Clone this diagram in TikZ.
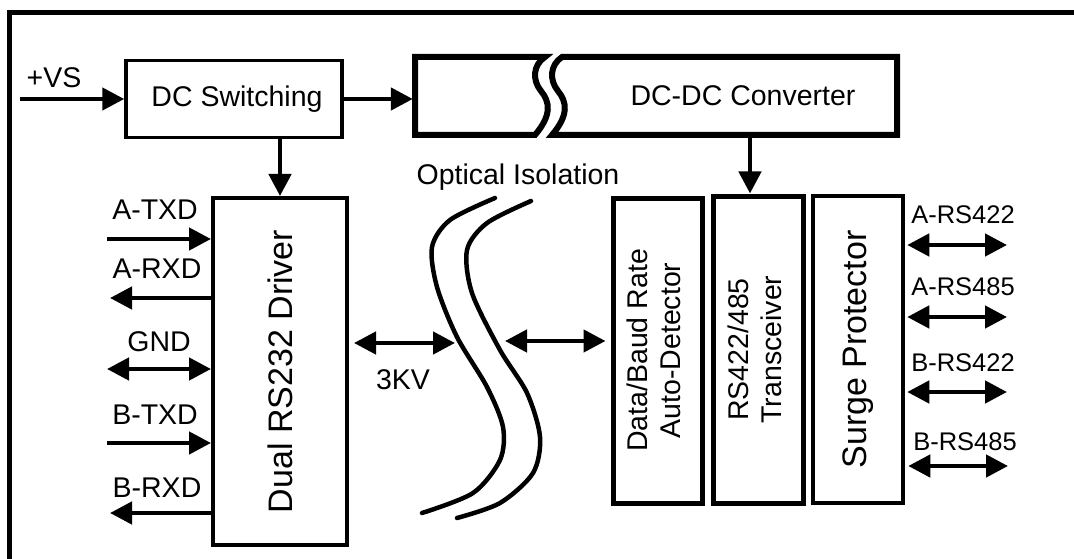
\documentclass[tikz,border=0pt]{standalone}
\usepackage{fontspec}
\setmainfont{Liberation Sans}
\usetikzlibrary{arrows.meta}
\newcommand\txtA{\fontsize{28.5pt}{33pt}\selectfont}
\newcommand\txtB{\fontsize{34pt}{40pt}\selectfont}
\newcommand\txtC{\fontsize{25.5pt}{30pt}\selectfont}
\begin{document}
\begin{tikzpicture}[x=1pt,y=-1pt,
  box/.style={draw, line width=#1, inner sep=0pt, align=center},
  box/.default=4pt,
  sig/.style={line width=4.5pt, -{Triangle[length=22pt,width=22pt]}},
  dsig/.style={line width=4.5pt, {Triangle[length=22pt,width=22pt]}-{Triangle[length=22pt,width=22pt]}},
  lbl/.style={font=\txtA, inner sep=0pt},
  rlbl/.style={font=\txtC, inner sep=0pt},
  iso/.style={line width=4.5pt, line cap=round},
  brk/.style={line width=6pt, line join=miter}]
\useasboundingbox (0,0) rectangle (1074,559);
\clip (0,0) rectangle (1074,559);
\fill[white] (0,0) rectangle (1074,559);
% outer frame
\draw[line width=5pt] (1090,13) -- (9.5,13) -- (9.5,580);

% DC switching
\node[box=3.5pt, minimum width=216pt, minimum height=77pt, font=\txtA] (dcsw) at (234,99) {\hspace*{6pt}DC Switching};

% DC-DC converter (broken box)
\node[minimum width=484pt, minimum height=78pt, inner sep=0pt] (dcdc) at (655,96) {};
\draw[brk] (545,57) -- (415,57) -- (415,135) -- (535,135) .. controls (552,115) and (550,102) .. (541,91) .. controls (532,80) and (533,65) .. (545,57) -- cycle;
\draw[brk] (562,57) -- (897,57) -- (897,135) -- (552,135) .. controls (569,115) and (567,102) .. (558,91) .. controls (549,80) and (550,65) .. (562,57) -- cycle;
\node[lbl] (dcdct) at (743,96) {DC-DC Converter};

% main blocks
\node[box=4pt, minimum width=134pt, minimum height=347pt, font=\txtB] (drv) at (280,371.5) {\rotatebox{90}{Dual RS232 Driver}};
\node[box=5pt, minimum width=89pt, minimum height=305pt, font=\txtA] (det) at (657.5,350.5) {\rotatebox{90}{\begin{tabular}{@{}c@{}}Data/Baud Rate\\Auto-Detector\end{tabular}}};
\node[box=5pt, minimum width=90pt, minimum height=307pt, font=\txtA] (trx) at (758,349.5) {\rotatebox{90}{\begin{tabular}{@{}c@{}}RS422/485\\Transceiver\end{tabular}}};
\node[box=4.5pt, minimum width=90pt, minimum height=307pt, font=\txtB] (srg) at (858,349.5) {\rotatebox{90}{Surge Protector}};

% power arrows
\coordinate (vs) at (20,99);
\node[lbl] (vsl) at (54,78) {+VS};
\draw[sig] (vs) -- (dcsw.west);
\draw[sig] (dcsw.east) -- (dcsw.east -| dcdc.west);
\draw[sig] (dcsw.south -| drv.north) -- (drv.north);
\draw[sig] ([xshift=-8pt]trx.north |- dcdc.south) -- ([xshift=-8pt]trx.north);

% left signals
\coordinate (atx) at (107,239);
\coordinate (arx) at (110,298);
\coordinate (gnd) at (107,369);
\coordinate (btx) at (107,443);
\coordinate (brx) at (110,513);
\draw[sig] (atx) -- (atx -| drv.west);
\draw[sig] (arx -| drv.west) -- (arx);
\draw[dsig] (gnd) -- (gnd -| drv.west);
\draw[sig] (btx) -- (btx -| drv.west);
\draw[sig] (brx -| drv.west) -- (brx);
\node[lbl] (atxl) at (155,210) {A-TXD};
\node[lbl] (arxl) at (157,269) {A-RXD};
\node[lbl] (gndl) at (159,342) {GND};
\node[lbl] (btxl) at (155,415) {B-TXD};
\node[lbl] (brxl) at (157,488) {B-RXD};

% isolation
\coordinate (k1) at (455,343);
\coordinate (k2) at (505,341);
\draw[dsig] ([xshift=5pt]drv.east |- k1) -- (k1);
\draw[dsig] (k2) -- ([xshift=-5pt]det.west |- k2);
\node[lbl] (kvl) at (403,380) {3KV};
\node[lbl] (optl) at (518,177) {Optical Isolation};
\draw[iso] plot[smooth] coordinates {(495,198) (450,220) (432,247) (437,287) (457,337) (487,387) (503,427) (500,460) (473,493) (422,513)};
\draw[iso] plot[smooth] coordinates {(531,201) (487,223) (467,250) (472,293) (500,350) (527,393) (540,437) (533,473) (500,503) (457,518)};

% right signals
\coordinate (r1) at (1007,245);
\coordinate (r2) at (1007,317);
\coordinate (r3) at (1007,392);
\coordinate (r4) at (1008,466);
\draw[dsig] ([xshift=2pt]srg.east |- r1) -- (r1);
\draw[dsig] ([xshift=2pt]srg.east |- r2) -- (r2);
\draw[dsig] ([xshift=2pt]srg.east |- r3) -- (r3);
\draw[dsig] ([xshift=3pt]srg.east |- r4) -- (r4);
\node[rlbl] (r1l) at (963,215) {A-RS422};
\node[rlbl] (r2l) at (963,287) {A-RS485};
\node[rlbl] (r3l) at (963,363) {B-RS422};
\node[rlbl] (r4l) at (965,442) {B-RS485};
\end{tikzpicture}
\end{document}
